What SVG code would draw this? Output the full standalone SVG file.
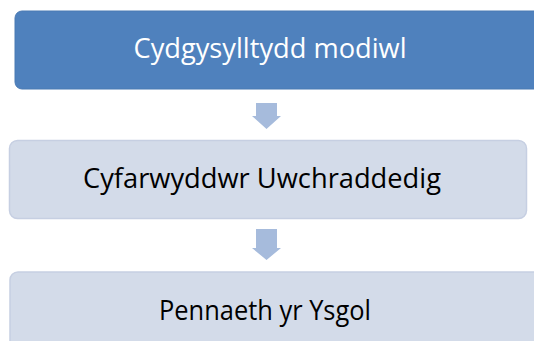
<svg xmlns="http://www.w3.org/2000/svg" width="534" height="341" viewBox="0 0 534 341">
<style>
.box1{fill:#4f81bd;stroke:#4a7ab3;stroke-width:1}
.box2{fill:#d3dbe9;stroke:#c6cfe2;stroke-width:1.5}
.t{font-family:"Open Sans","Liberation Sans",sans-serif;font-size:26.5px;text-anchor:middle}
.arr{fill:#a6bbdc}
</style>
<rect width="534" height="341" fill="#ffffff"/>
<g id="node1">
<rect class="box1" x="15" y="11" width="545" height="78" rx="7"/>
<text class="t" x="270" y="58" fill="#ffffff" textLength="273" lengthAdjust="spacingAndGlyphs">Cydgysylltydd modiwl</text>
</g>
<g id="node2">
<rect class="box2" x="9.5" y="140.5" width="517" height="78" rx="8"/>
<text class="t" x="262" y="188" fill="#000000" textLength="358" lengthAdjust="spacingAndGlyphs">Cyfarwyddwr Uwchraddedig</text>
</g>
<g id="node3">
<rect class="box2" x="10" y="272" width="545" height="90" rx="8"/>
<text class="t" x="265" y="320" fill="#000000" textLength="212" lengthAdjust="spacingAndGlyphs">Pennaeth yr Ysgol</text>
</g>
<g id="connectors">
<polygon class="arr" points="256,103 277,103 277,116 281,116 266.5,129 252,116 256,116"/>
<polygon class="arr" points="256,229 277,229 277,248 281,248 266.5,260 252,248 256,248"/>
</g>
</svg>
